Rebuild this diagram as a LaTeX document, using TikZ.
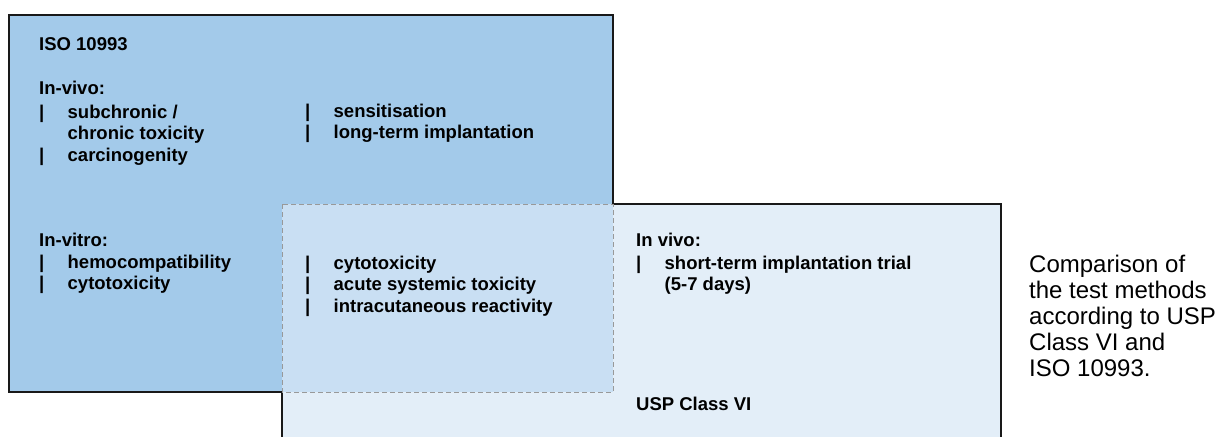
\documentclass[tikz,border=0pt]{standalone}
\usepackage{fontspec}
\setmainfont{Liberation Sans}
\usetikzlibrary{positioning}

\definecolor{isoblue}{HTML}{A3CAEA}
\definecolor{uspblue}{HTML}{E3EEF8}
\definecolor{bothblue}{HTML}{C9DFF3}

\newcommand{\testlist}[1]{\begin{tabular}[t]{@{}p{28.5pt}@{}l@{}}#1\end{tabular}}

\begin{document}
\begin{tikzpicture}[x=1pt,y=-1pt,
  outline/.style={draw=black!90,line width=1.3pt},
  overlap/.style={draw=black!40,line width=1pt,dash pattern=on 5pt off 3pt},
  head/.style={anchor=base west,inner sep=0pt,font=\bfseries\fontsize{18.5}{21.5}\selectfont},
  caption/.style={anchor=base west,inner sep=0pt,align=left,font=\fontsize{24}{26}\selectfont}]

\useasboundingbox (0,0) rectangle (1218,437);

% areas
\fill[isoblue] (9,15) rectangle (613,392);
\fill[uspblue] (282,204) rectangle (1001,437);
\fill[bothblue] (282,204) rectangle (613,392);

\draw[outline] (282,392) -- (9,392) -- (9,15) -- (613,15) -- (613,204);
\draw[outline] (613,204) -- (1001,204) -- (1001,437);
\draw[outline] (282,392) -- (282,437);
\draw[overlap] (282,204) rectangle (613,392);

% ISO 10993
\node[head] (iso) at (39,50) {ISO 10993};
\node[head] (isovivo) at (39,94) {In-vivo:};
\node[head] (isovivoa) at (39,118) {\testlist{| & subchronic /\\ & chronic toxicity\\ | & carcinogenity}};
\node[head] (isovivob) at (305,117) {\testlist{| & sensitisation\\ | & long-term implantation}};
\node[head] (isovitro) at (39,246) {In-vitro:};
\node[head] (isovitroa) at (39,268) {\testlist{| & hemocompatibility\\ | & cytotoxicity}};

% both
\node[head] (both) at (305,269) {\testlist{| & cytotoxicity\\ | & acute systemic toxicity\\ | & intracutaneous reactivity}};

% USP Class VI
\node[head] (uspvivo) at (636,246) {In vivo:};
\node[head] (uspvivoa) at (636,269) {\testlist{| & short-term implantation trial\\ & (5-7 days)}};
\node[head] (usp) at (636,410) {USP Class VI};

% caption, placed by its last line
\node[caption] (note) at (1029,376) {Comparison of\\the test methods\\according to USP\\Class VI and\\ISO 10993.};

\end{tikzpicture}
\end{document}
